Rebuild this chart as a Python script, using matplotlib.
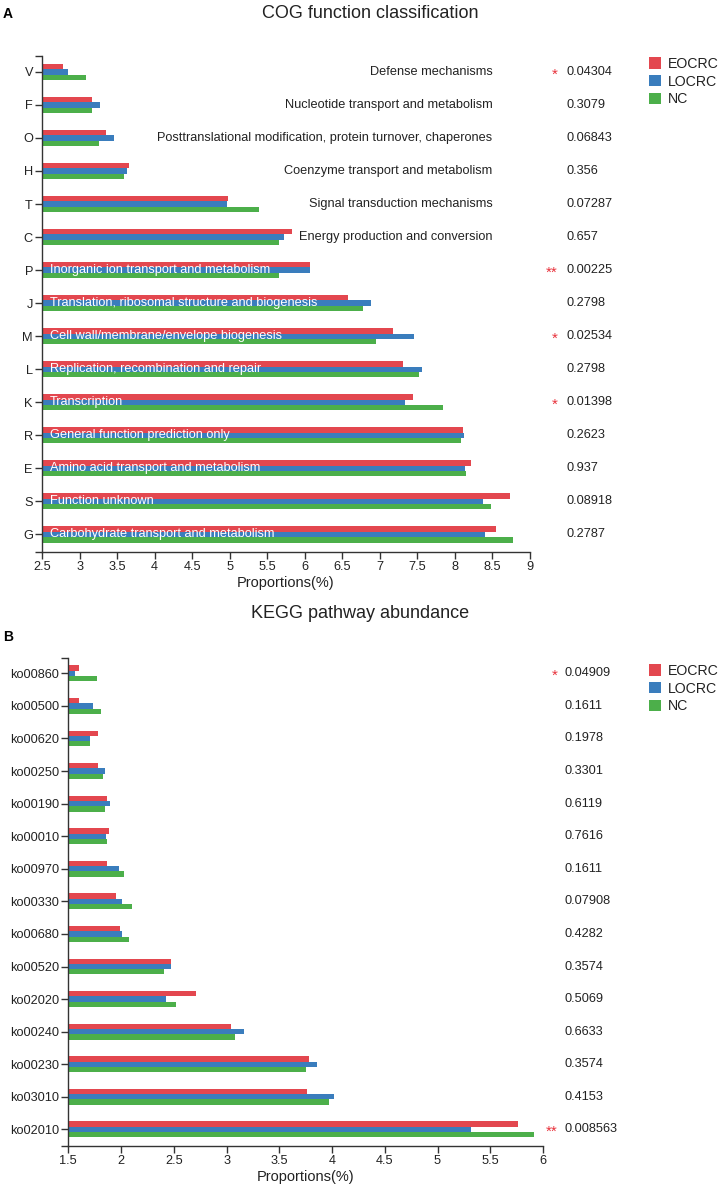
import matplotlib
matplotlib.use('Agg')
import matplotlib.pyplot as plt
from matplotlib.ticker import FuncFormatter, MultipleLocator

plt.rcParams['font.family'] = ['Liberation Sans', 'DejaVu Sans']

W, H = 719, 1191

# COG panel data (top to bottom)
cog_codes = ['V', 'F', 'O', 'H', 'T', 'C', 'P', 'J', 'M', 'L', 'K', 'R', 'E', 'S', 'G']
cog_names = [
    'Defense mechanisms',
    'Nucleotide transport and metabolism',
    'Posttranslational modification, protein turnover, chaperones',
    'Coenzyme transport and metabolism',
    'Signal transduction mechanisms',
    'Energy production and conversion',
    'Inorganic ion transport and metabolism',
    'Translation, ribosomal structure and biogenesis',
    'Cell wall/membrane/envelope biogenesis',
    'Replication, recombination and repair',
    'Transcription',
    'General function prediction only',
    'Amino acid transport and metabolism',
    'Function unknown',
    'Carbohydrate transport and metabolism',
]
cog_eocrc = [2.78, 3.17, 3.35, 3.66, 4.98, 5.83, 6.07, 6.58, 7.17, 7.31, 7.44, 8.11, 8.21, 8.73, 8.55]
cog_locrc = [2.84, 3.27, 3.46, 3.63, 4.97, 5.72, 6.07, 6.88, 7.46, 7.56, 7.34, 8.12, 8.13, 8.37, 8.40]
cog_nc = [3.08, 3.17, 3.26, 3.59, 5.39, 5.66, 5.66, 6.77, 6.95, 7.52, 7.84, 8.08, 8.15, 8.48, 8.78]
cog_p = ['0.04304', '0.3079', '0.06843', '0.356', '0.07287', '0.657', '0.00225', '0.2798',
         '0.02534', '0.2798', '0.01398', '0.2623', '0.937', '0.08918', '0.2787']

# KEGG panel data (top to bottom)
kegg_codes = ['ko00860', 'ko00500', 'ko00620', 'ko00250', 'ko00190', 'ko00010', 'ko00970', 'ko00330',
              'ko00680', 'ko00520', 'ko02020', 'ko00240', 'ko00230', 'ko03010', 'ko02010']
kegg_eocrc = [1.60, 1.60, 1.78, 1.78, 1.87, 1.89, 1.87, 1.95, 1.99, 2.47, 2.71, 3.04, 3.78, 3.76, 5.76]
kegg_locrc = [1.56, 1.73, 1.71, 1.85, 1.90, 1.86, 1.98, 2.01, 2.01, 2.47, 2.43, 3.17, 3.86, 4.02, 5.32]
kegg_nc = [1.77, 1.81, 1.71, 1.83, 1.85, 1.87, 2.03, 2.10, 2.08, 2.41, 2.52, 3.08, 3.75, 3.97, 5.91]
kegg_p = ['0.04909', '0.1611', '0.1978', '0.3301', '0.6119', '0.7616', '0.1611', '0.07908',
          '0.4282', '0.3574', '0.5069', '0.6633', '0.3574', '0.4153', '0.008563']

groups = ['EOCRC', 'LOCRC', 'NC']
colors = ['#e3474f', '#3a7dbd', '#4caf4a']
text_color = '#222222'
axis_color = '#333333'


def fx(px):
    return px / W


def fy(py):
    return 1 - py / H


def stars(p):
    v = float(p)
    if v < 0.01:
        return '**'
    if v < 0.05:
        return '*'
    return ''


def draw_panel(ax, codes, series, pvals, xmin, xmax, ylim, star_x, p_x, names=None):
    n = len(codes)
    y = list(range(n))
    bh = 0.162
    for k, (vals, col, lab) in enumerate(zip(series, colors, groups)):
        ax.barh([i + (k - 1) * bh for i in y], vals, height=bh, color=col, label=lab,
                edgecolor='none')
    ax.set_xlim(xmin, xmax)
    ax.set_ylim(*ylim)
    ax.set_yticks(y)
    ax.set_yticklabels(codes)
    ax.set_yticks(list(ylim), minor=True)
    ax.xaxis.set_major_locator(MultipleLocator(0.5))
    ax.xaxis.set_major_formatter(FuncFormatter(lambda v, _: f'{v:g}'))
    for s in ['top', 'right']:
        ax.spines[s].set_visible(False)
    for s in ['left', 'bottom']:
        ax.spines[s].set_color(axis_color)
        ax.spines[s].set_linewidth(1.0)
    ax.tick_params(axis='both', which='both', direction='out', length=5, width=1.0,
                   color=axis_color, labelcolor=text_color, labelsize=9.2, pad=1.5)
    ax.set_xlabel('Proportions(%)', fontsize=10.5, color=text_color, labelpad=2)

    for i in y:
        st = stars(pvals[i])
        if st:
            ax.text(star_x, i + 0.08, st, color='#e8303a', fontsize=11, ha='right', va='center',
                    clip_on=False)
        ax.text(p_x, i, pvals[i], color=text_color, fontsize=9.2, ha='left', va='center',
                clip_on=False)
        if names is not None:
            top = max(series[0][i], series[1][i], series[2][i])
            if top > 6:
                ax.text(xmin + 0.1, i, names[i], color='white', fontsize=9.2, ha='left',
                        va='center')
            else:
                ax.text(8.5, i, names[i], color=text_color, fontsize=9.2, ha='right',
                        va='center')

    ax.legend(loc='upper left', bbox_to_anchor=(fx(648), fy(56)),
              bbox_transform=ax.figure.transFigure, frameon=False, fontsize=10.2,
              handlelength=0.85, handleheight=0.85, handletextpad=0.45, labelspacing=0.25,
              borderaxespad=0, borderpad=0, labelcolor=text_color)


fig = plt.figure(figsize=(W / 100, H / 100), dpi=100)

# top panel: COG
ax1 = fig.add_axes([fx(42), fy(552), fx(530 - 42), (552 - 56) / H])
draw_panel(ax1, cog_codes, [cog_eocrc, cog_locrc, cog_nc], cog_p, 2.5, 9.0, (14.53, -0.48),
           9.37, 9.49, names=cog_names)
ax1.get_legend().set_bbox_to_anchor((fx(649), fy(57)), transform=fig.transFigure)

# bottom panel: KEGG
ax2 = fig.add_axes([fx(68.3), fy(1146), fx(543 - 68.3), (1146 - 658) / H])
draw_panel(ax2, kegg_codes, [kegg_eocrc, kegg_locrc, kegg_nc], kegg_p, 1.5, 6.0, (14.51, -0.47),
           6.14, 6.205)
ax2.get_legend().set_bbox_to_anchor((fx(649), fy(664)), transform=fig.transFigure)

fig.text(fx(370), fy(13), 'COG function classification', fontsize=13, color=text_color,
         ha='center', va='center')
fig.text(fx(360), fy(613), 'KEGG pathway abundance', fontsize=13, color=text_color,
         ha='center', va='center')
fig.text(fx(3), fy(14), 'A', fontsize=10, fontweight='bold', color='black', ha='left', va='center')
fig.text(fx(3), fy(637), 'B', fontsize=10, fontweight='bold', color='black', ha='left', va='center')

fig.savefig('out.png', dpi=100)
